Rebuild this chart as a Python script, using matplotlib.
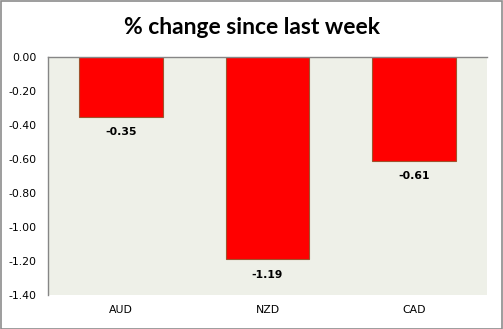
import matplotlib
matplotlib.use("Agg")
import matplotlib.pyplot as plt
from matplotlib.patches import Rectangle

categories = ["AUD", "NZD", "CAD"]
values = [-0.35, -1.19, -0.61]
yticks = [0.0, -0.2, -0.4, -0.6, -0.8, -1.0, -1.2, -1.4]
title = "% change since last week"

W, H = 503, 329
fig = plt.figure(figsize=(W/100, H/100), dpi=100)
fig.patch.set_facecolor("white")
fig.add_artist(Rectangle((0.5/W, 0.5/H), 1-1.5/W, 1-1.5/H, transform=fig.transFigure,
                         fill=False, edgecolor="#8c8c8c", linewidth=1.2))

left, right, top, bottom = 48, 487, 57, 295
ax = fig.add_axes([left/W, 1-bottom/H, (right-left)/W, (bottom-top)/H])
ax.set_facecolor("#EEF0E8")
x = range(len(categories))
ax.bar(x, values, width=0.57, color="#FF0000", edgecolor="#A0522D", linewidth=0.8, zorder=2)
ax.set_xlim(-0.5, len(categories)-0.5)
ax.set_ylim(-1.4, 0)
ax.set_yticks(yticks)
ax.set_yticklabels([f"{t:.2f}" for t in yticks], fontsize=7.8, color="black")
ax.set_xticks(list(x))
ax.set_xticklabels(categories, fontsize=7.8)
ax.tick_params(axis="x", length=0, pad=7)
ax.tick_params(axis="y", length=0, pad=8)
for s in ["right", "bottom"]:
    ax.spines[s].set_visible(False)
for s in ["left", "top"]:
    ax.spines[s].set_color("#868686")
    ax.spines[s].set_linewidth(1.0)
for i, v in enumerate(values):
    ax.annotate(f"{v:.2f}", (i, v), xytext=(0, -11), textcoords="offset points",
                ha="center", va="center", fontsize=7.8, fontweight="bold")

fig.text(0.5, 1-27/H, title, ha="center", va="center", fontsize=16.5,
         fontweight="bold", family=["Lato", "DejaVu Sans"])
fig.savefig("out.png", dpi=100)
